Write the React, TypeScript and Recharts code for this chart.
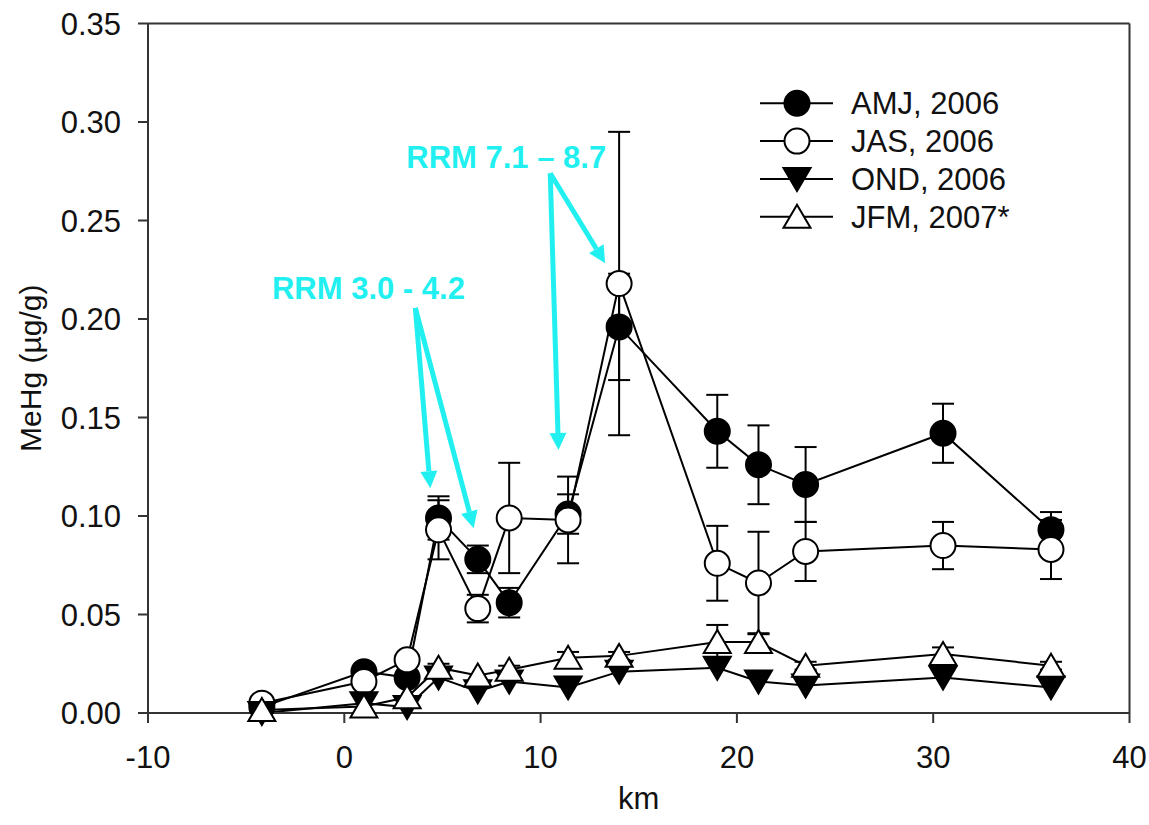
import React from "react";
import {
  LineChart,
  Line,
  XAxis,
  YAxis,
  ErrorBar,
  ReferenceLine,
  ReferenceDot,
  Legend,
  Label,
} from "recharts";

const FONT = '"Liberation Sans", Arial, Helvetica, sans-serif';
const CYAN = "#22F0F0";
const AXIS = "#333";

// sampling sites, km downstream
const km = [-4.2, 1.0, 3.2, 4.8, 6.8, 8.4, 11.4, 14.0, 19.0, 21.1, 23.5, 30.5, 36.0];

// MeHg (ug/g) per quarter, with +/- error
const amj = [0.003, 0.021, 0.018, 0.099, 0.078, 0.056, 0.101, 0.196, 0.143, 0.126, 0.116, 0.142, 0.093];
const amjErr = [0, 0, 0, 0.011, 0.007, 0.0075, 0.01, 0.027, 0.0185, 0.02, 0.019, 0.015, 0.009];
const jas = [0.005, 0.016, 0.027, 0.093, 0.053, 0.099, 0.098, 0.218, 0.076, 0.066, 0.082, 0.085, 0.083];
const jasErr = [0, 0, 0, 0.015, 0.007, 0.028, 0.022, 0.077, 0.019, 0.026, 0.015, 0.012, 0.015];
const ond = [0.0, 0.005, 0.003, 0.018, 0.011, 0.016, 0.013, 0.021, 0.023, 0.016, 0.014, 0.018, 0.013];
const ondErr = [0, 0, 0, 0, 0, 0, 0, 0, 0, 0, 0, 0, 0];
const jfm = [0.0015, 0.0033, 0.008, 0.023, 0.019, 0.022, 0.028, 0.029, 0.036, 0.036, 0.024, 0.03, 0.024];
const jfmErr = [0, 0, 0, 0.002, 0, 0.002, 0.003, 0.002, 0.0087, 0.0045, 0.002, 0.0033, 0.002];

const xTicks = [-10, 0, 10, 20, 30, 40];
const yTicks = [0, 0.05, 0.1, 0.15, 0.2, 0.25, 0.3, 0.35];

// cyan callouts: label + arrows (data coords)
const callouts = [
  {
    text: "RRM 3.0 - 4.2",
    at: { x: 1.23, y: 0.2102 },
    from: { x: 3.62, y: 0.2056 },
    to: [
      { x: 4.38, y: 0.1141 },
      { x: 6.59, y: 0.0938 },
    ],
  },
  {
    text: "RRM 7.1 \u2013 8.7",
    at: { x: 8.25, y: 0.2768 },
    from: { x: 10.49, y: 0.274 },
    to: [
      { x: 10.91, y: 0.1335 },
      { x: 13.29, y: 0.2283 },
    ],
  },
];

type Shape = "circle" | "down" | "up";

const series: { key: string; name: string; shape: Shape; filled: boolean }[] = [
  { key: "amj", name: "AMJ, 2006", shape: "circle", filled: true },
  { key: "jas", name: "JAS, 2006", shape: "circle", filled: false },
  { key: "ond", name: "OND, 2006", shape: "down", filled: true },
  { key: "jfm", name: "JFM, 2007*", shape: "up", filled: false },
];

const data = km.map((x, i) => ({
  km: x,
  amj: amj[i],
  amjErr: amjErr[i],
  jas: jas[i],
  jasErr: jasErr[i],
  ond: ond[i],
  ondErr: ondErr[i],
  jfm: jfm[i],
  jfmErr: jfmErr[i],
}));

function marker(cx: number, cy: number, shape: Shape, filled: boolean) {
  const fill = filled ? "#000" : "#fff";
  if (shape === "circle") {
    return <circle cx={cx} cy={cy} r={12.5} fill={fill} stroke="#000" strokeWidth={2} />;
  }
  const pts =
    shape === "down"
      ? `${cx - 13.5},${cy - 11} ${cx + 13.5},${cy - 11} ${cx},${cy + 12}`
      : `${cx},${cy - 12} ${cx - 13.5},${cy + 11} ${cx + 13.5},${cy + 11}`;
  return <polygon points={pts} fill={fill} stroke="#000" strokeWidth={2} strokeLinejoin="miter" />;
}

function Arrow(props: any) {
  const { x1, y1, x2, y2 } = props;
  if ([x1, y1, x2, y2].some((v) => typeof v !== "number" || isNaN(v))) return <g />;
  const dx = x2 - x1;
  const dy = y2 - y1;
  const len = Math.hypot(dx, dy) || 1;
  const ux = dx / len;
  const uy = dy / len;
  const head = 17;
  const half = 8.5;
  const bx = x2 - ux * head;
  const by = y2 - uy * head;
  return (
    <g>
      <line x1={x1} y1={y1} x2={bx} y2={by} stroke={CYAN} strokeWidth={5} />
      <polygon
        points={`${x2},${y2} ${bx - uy * half},${by + ux * half} ${bx + uy * half},${by - ux * half}`}
        fill={CYAN}
      />
    </g>
  );
}

function LegendBox() {
  return (
    <svg width={300} height={160} style={{ display: "block", overflow: "visible" }}>
      {series.map((s, i) => {
        const y = 25.3 + i * 37.8;
        return (
          <g key={s.key}>
            <line x1={8} y1={y} x2={81} y2={y} stroke="#000" strokeWidth={2} />
            {marker(45, y, s.shape, s.filled)}
            <text x={99} y={y} dy="0.36em" fontSize={31} fontFamily={FONT} fill="#111">
              {s.name}
            </text>
          </g>
        );
      })}
    </svg>
  );
}

export default function App() {
  return (
    <div style={{ position: "absolute", left: 0, top: 0, width: 1149, height: 825, background: "#fff" }}>
      <LineChart
        width={1149}
        height={825}
        data={data}
        margin={{ top: 23.5, right: 19.5, left: 8, bottom: 12 }}
        style={{ fontFamily: FONT }}
      >
        <XAxis
          dataKey="km"
          type="number"
          domain={[-10, 40]}
          ticks={xTicks}
          height={100}
          tickSize={10}
          tickMargin={23}
          axisLine={{ stroke: AXIS, strokeWidth: 2 }}
          tickLine={{ stroke: AXIS, strokeWidth: 2 }}
          tick={{ fontSize: 31, fill: "#111", fontFamily: FONT }}
        >
          <Label
            content={(p: any) => {
              const vb = p.viewBox || {};
              return (
                <text
                  x={vb.x + vb.width / 2}
                  y={vb.y + 96}
                  textAnchor="middle"
                  fontSize={31}
                  fontFamily={FONT}
                  fill="#111"
                >
                  km
                </text>
              );
            }}
          />
        </XAxis>
        <YAxis
          type="number"
          domain={[0, 0.35]}
          ticks={yTicks}
          width={140}
          tickSize={10}
          tickMargin={17}
          tickFormatter={(v: number) => v.toFixed(2)}
          axisLine={{ stroke: AXIS, strokeWidth: 2 }}
          tickLine={{ stroke: AXIS, strokeWidth: 2 }}
          tick={{ fontSize: 31, fill: "#111", fontFamily: FONT }}
        >
          <Label
            content={(p: any) => {
              const vb = p.viewBox || {};
              const cx = vb.x + 22;
              const cy = vb.y + vb.height / 2;
              return (
                <text
                  x={cx}
                  y={cy}
                  transform={`rotate(-90 ${cx} ${cy})`}
                  textAnchor="middle"
                  dy="0.36em"
                  fontSize={30}
                  fontFamily={FONT}
                  fill="#111"
                >
                  MeHg (µg/g)
                </text>
              );
            }}
          />
        </YAxis>

        <ReferenceLine y={0.35} stroke={AXIS} strokeWidth={2} />
        <ReferenceLine x={40} stroke={AXIS} strokeWidth={2} />

        {series.map((s) => (
          <Line
            key={s.key}
            dataKey={s.key}
            type="linear"
            stroke="#000"
            strokeWidth={2}
            isAnimationActive={false}
            activeDot={false}
            dot={(p: any) => (
              <g key={`${s.key}-${p.index}`}>{marker(p.cx, p.cy, s.shape, s.filled)}</g>
            )}
          >
            <ErrorBar
              dataKey={`${s.key}Err`}
              width={11}
              stroke="#000"
              strokeWidth={2}
              direction="y"
              isAnimationActive={false}
            />
          </Line>
        ))}

        {callouts.map((c) =>
          c.to.map((t, j) => (
            <ReferenceLine
              key={`${c.text}-${j}`}
              segment={[c.from, t]}
              shape={(p: any) => <Arrow {...p} />}
              ifOverflow="visible"
            />
          ))
        )}
        {callouts.map((c) => (
          <ReferenceDot
            key={c.text}
            x={c.at.x}
            y={c.at.y}
            r={0}
            fill="none"
            stroke="none"
            ifOverflow="visible"
          >
            <Label
              content={(p: any) => {
                const vb = p.viewBox || {};
                return (
                  <text
                    x={vb.x + (vb.width || 0) / 2}
                    y={vb.y + (vb.height || 0) / 2}
                    textAnchor="middle"
                    fontSize={31}
                    fontWeight="bold"
                    fontFamily={FONT}
                    fill={CYAN}
                  >
                    {c.text}
                  </text>
                );
              }}
            />
          </ReferenceDot>
        ))}

        <Legend
          layout="vertical"
          verticalAlign="middle"
          align="center"
          content={() => <LegendBox />}
          wrapperStyle={{ position: "absolute", left: 752, top: 78, width: 300, height: 160 }}
        />
      </LineChart>
    </div>
  );
}
